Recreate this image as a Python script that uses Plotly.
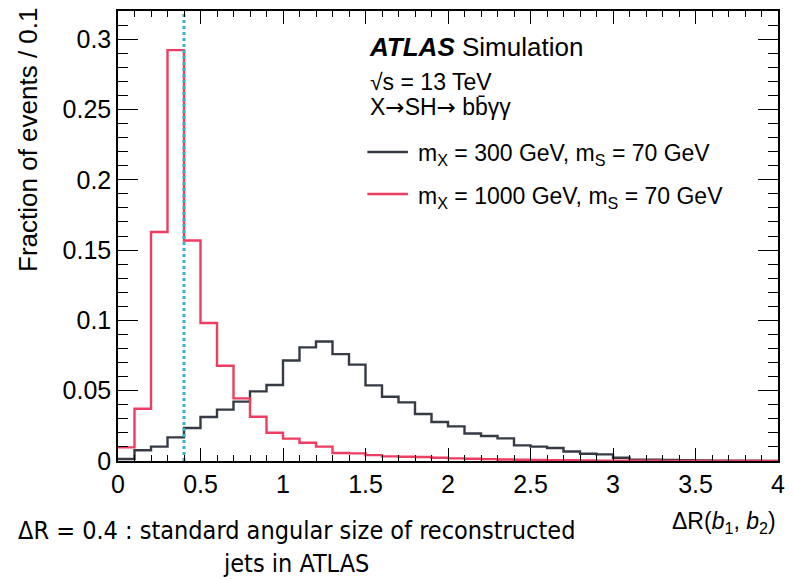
import numpy as np
import plotly.graph_objects as go

# Delta R(b1, b2) distributions, fraction of events per 0.1 bin (0 to 4)
bin_width = 0.1
frac_mx300 = [
    0.0014, 0.0076, 0.0102, 0.0168, 0.0235, 0.0313, 0.0365, 0.0422, 0.0495, 0.0540,
    0.0715, 0.0808, 0.0850, 0.0760, 0.0685, 0.0538, 0.0457, 0.0417, 0.0334, 0.0277,
    0.0246, 0.0196, 0.0178, 0.0161, 0.0111, 0.0102, 0.0092, 0.0068, 0.0052, 0.0047,
    0.0023, 0.0010, 0.0009, 0.0007, 0.0005, 0.0004, 0.0003, 0.0002, 0.0002, 0.0001,
]
frac_mx1000 = [
    0.0097, 0.0372, 0.1628, 0.2922, 0.1568, 0.0981, 0.0677, 0.0445, 0.0315, 0.0201,
    0.0159, 0.0130, 0.0102, 0.0057, 0.0054, 0.0042, 0.0033, 0.0030, 0.0028, 0.0023,
    0.0019, 0.0016, 0.0013, 0.0011, 0.0009, 0.0007, 0.0006, 0.0005, 0.0004, 0.0003,
    0.0003, 0.0002, 0.0002, 0.0001, 0.0001, 0.0001, 0.0001, 0.0001, 0.0000, 0.0000,
]
jet_radius = 0.4

series_names = [
    "m<sub>X</sub> = 300 GeV, m<sub>S</sub> = 70 GeV",
    "m<sub>X</sub> = 1000 GeV, m<sub>S</sub> = 70 GeV",
]
series_colors = ["#353a45", "#ee3d62"]
cut_color = "#35b6c4"

x_ticks = [0, 0.5, 1, 1.5, 2, 2.5, 3, 3.5, 4]
x_tick_text = ["0", "0.5", "1", "1.5", "2", "2.5", "3", "3.5", "4"]
y_ticks = [0, 0.05, 0.1, 0.15, 0.2, 0.25, 0.3]
y_tick_text = ["0", "0.05", "0.1", "0.15", "0.2", "0.25", "0.3"]

FONT = "Liberation Sans, Arial, Helvetica, sans-serif"

fig = go.Figure()

for vals, name, color in zip([frac_mx300, frac_mx1000], series_names, series_colors):
    n = len(vals)
    edges = np.arange(n + 1) * bin_width
    yv = list(vals) + [vals[-1]]
    fig.add_trace(go.Scatter(
        x=edges, y=yv, mode="lines", name=name,
        line=dict(color=color, width=2.4, shape="hv"),
        showlegend=False, hoverinfo="skip",
    ))

# Jet-size reference line
fig.add_trace(go.Scatter(
    x=[jet_radius, jet_radius], y=[0, 0.32], mode="lines",
    line=dict(color=cut_color, width=3, dash="3px,3px"),
    showlegend=False, hoverinfo="skip",
))

axis_common = dict(
    showline=True, linecolor="black", linewidth=1.5, mirror="allticks",
    ticks="inside", tickcolor="black", tickwidth=1.2,
    showgrid=False, zeroline=False,
    tickfont=dict(family=FONT, size=25, color="black"),
)

fig.update_xaxes(
    range=[0, 4], tickmode="array", tickvals=x_ticks, ticktext=x_tick_text,
    ticklen=13,
    minor=dict(dtick=0.1, tick0=0, ticks="inside", ticklen=6, tickcolor="black", tickwidth=1.2),
    **axis_common,
)
fig.update_yaxes(
    range=[0, 0.32], tickmode="array", tickvals=y_ticks, ticktext=y_tick_text,
    ticklen=20,
    minor=dict(dtick=0.01, tick0=0, ticks="inside", ticklen=10, tickcolor="black", tickwidth=1.2),
    **axis_common,
)

L, R, T, B = 118, 9, 11, 119
W, H = 794, 580
pw, ph = W - L - R, H - T - B


def px(xp):
    return (xp - L) / pw


def py(yp):
    return (H - B - yp) / ph


arrow = "<span style='font-family:DejaVu Sans'>→</span>"

annotations = [
    dict(text="<b><i>ATLAS</i></b> Simulation", x=px(370), y=py(47),
         font=dict(family=FONT, size=26, color="black")),
    dict(text="√s = 13 TeV", x=px(371), y=py(82),
         font=dict(family=FONT, size=23, color="black")),
    dict(text=f"X{arrow}SH{arrow} bb\u0304γγ", x=px(371), y=py(107),
         font=dict(family=FONT, size=23, color="black")),
    dict(text=series_names[0], x=px(419), y=py(155),
         font=dict(family=FONT, size=23, color="black")),
    dict(text=series_names[1], x=px(419), y=py(197),
         font=dict(family=FONT, size=23, color="black")),
]
for a in annotations:
    a.update(xref="paper", yref="paper", xanchor="left", yanchor="middle", showarrow=False)

annotations += [
    dict(text="Fraction of events / 0.1", x=px(27), y=py(140), textangle=-90,
         xref="paper", yref="paper", xanchor="center", yanchor="middle", showarrow=False,
         font=dict(family=FONT, size=26, color="black")),
    dict(text="ΔR(<i>b</i><sub>1</sub>, <i>b</i><sub>2</sub>)", x=1.0, y=py(522),
         xref="paper", yref="paper", xanchor="right", yanchor="middle", showarrow=False,
         font=dict(family=FONT, size=23, color="black")),
    dict(text="ΔR = 0.4 : standard angular size of reconstructed<br>jets in ATLAS",
         x=px(298), y=py(547), xref="paper", yref="paper", xanchor="center", yanchor="middle",
         align="center", showarrow=False,
         font=dict(family="DejaVu Sans Condensed, Liberation Sans Narrow, Roboto, sans-serif",
                   size=25, color="black")),
]

shapes = []
for color, yp in zip(series_colors, [152, 194]):
    shapes.append(dict(type="line", xref="paper", yref="paper",
                       x0=px(370), x1=px(411), y0=py(yp), y1=py(yp),
                       line=dict(color=color, width=2.4)))

fig.update_layout(
    width=W, height=H,
    margin=dict(l=L, r=R, t=T, b=B),
    plot_bgcolor="white", paper_bgcolor="white",
    annotations=annotations, shapes=shapes,
    showlegend=False,
)

fig.write_html("out.html")
